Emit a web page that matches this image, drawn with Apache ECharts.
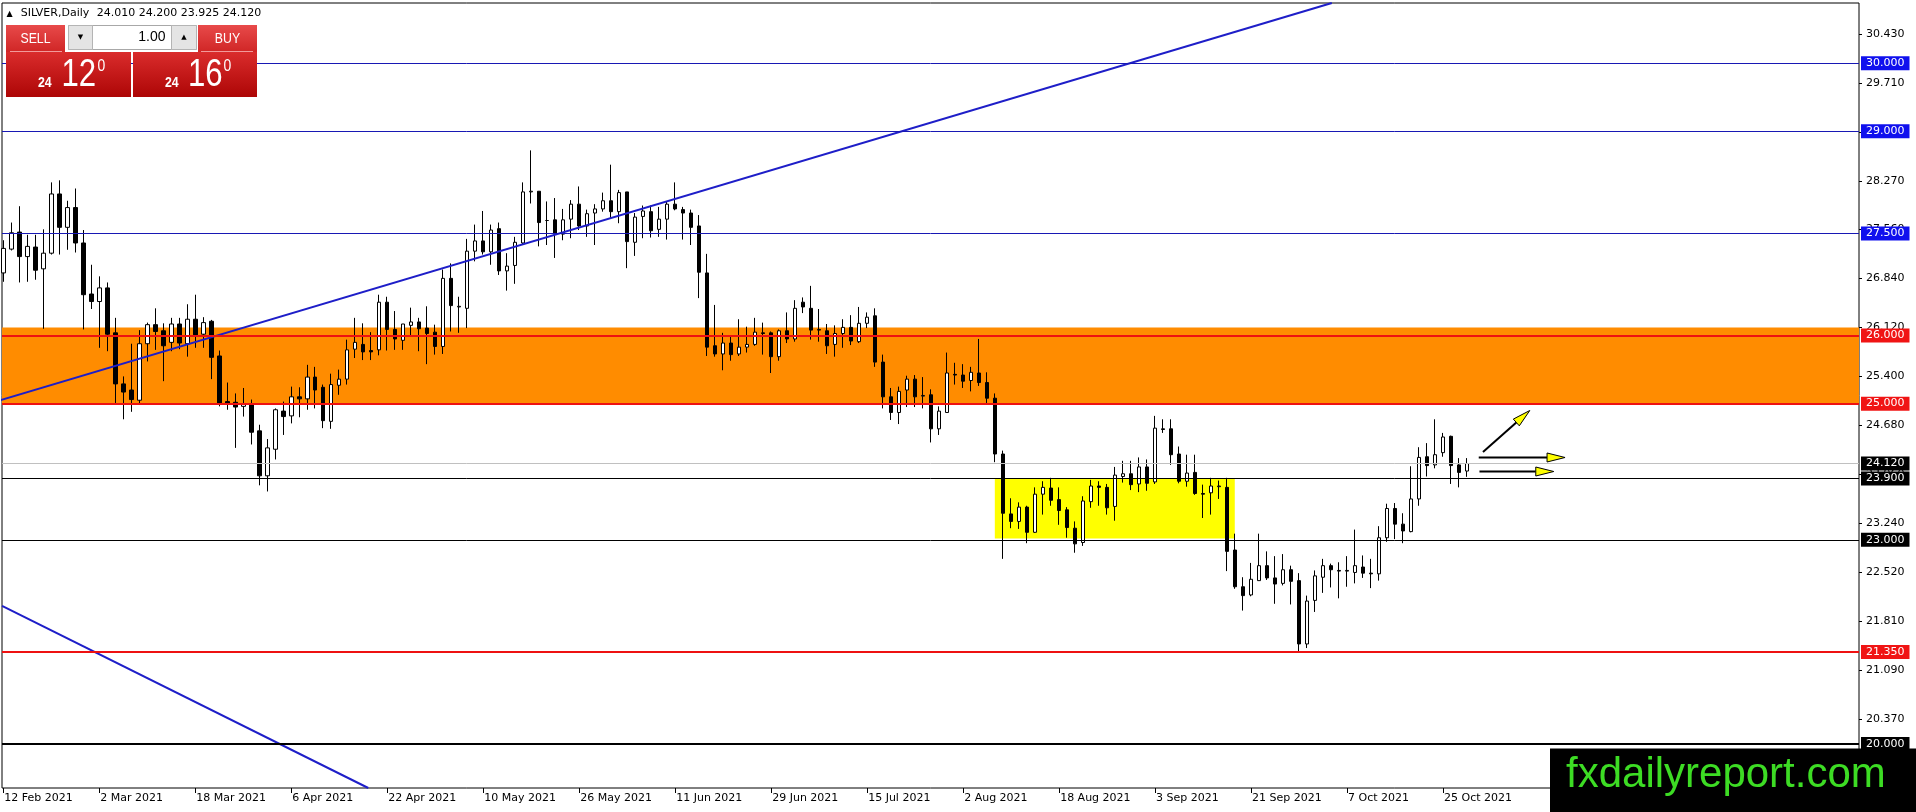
<!DOCTYPE html>
<html>
<head>
<meta charset="utf-8">
<script src="https://cdn.jsdelivr.net/npm/echarts@6/dist/echarts.min.js"></script>
<style>
html,body{margin:0;padding:0;background:#ffffff;}
#chart{width:1916px;height:812px;}
</style>
</head>
<body>
<div id="chart"></div>
<script>
// ---------------- DATA ----------------
const symbolName = 'SILVER,Daily';
const opens = [
26.92,27.27,27.52,27.16,27.30,26.98,27.21,28.08,27.59,27.88,
27.36,26.61,26.50,26.70,26.04,25.29,25.20,25.05,25.88,26.16,
26.07,25.90,26.17,25.88,26.24,26.02,26.21,25.70,25.03,25.02,
24.96,24.99,24.60,23.94,24.33,24.89,24.82,25.10,25.07,25.39,
25.24,24.74,25.27,25.36,25.80,25.87,25.78,25.79,26.49,26.09,
25.93,26.15,26.20,26.11,26.05,25.84,26.84,26.42,26.40,27.24,
27.39,27.23,27.57,26.95,27.03,27.36,28.11,28.12,27.69,27.70,
27.49,27.71,27.93,27.61,27.80,27.86,27.98,27.82,28.11,27.37,
27.75,27.82,27.56,27.71,27.93,27.85,27.80,27.61,26.92,25.85,
25.73,25.89,25.73,25.83,25.87,26.04,26.04,25.69,26.07,25.95,
26.49,26.40,26.08,26.07,25.87,26.03,26.12,25.91,26.18,26.29,
25.61,25.10,24.87,25.20,25.36,25.11,25.13,24.63,24.87,25.43,
25.42,25.34,25.45,25.31,25.08,24.26,23.38,23.27,23.48,23.11,
23.67,23.76,23.59,23.44,23.17,22.96,23.56,23.79,23.77,23.49,
23.93,23.97,23.82,24.07,23.85,24.63,24.63,24.26,23.86,23.99,
23.68,23.69,23.78,23.77,22.85,22.31,22.19,22.40,22.62,22.44,
22.36,22.56,22.40,21.47,22.11,22.45,22.62,22.55,22.54,22.52,
22.60,22.51,22.50,23.03,23.46,23.23,23.12,23.60,24.22,24.10,
24.28,24.52,24.10,24.010];
const closes = [
27.28,27.51,27.16,27.31,26.96,27.21,28.08,27.59,27.88,27.36,
26.60,26.50,26.70,26.02,25.29,25.17,25.06,25.88,26.16,26.06,
25.85,26.17,25.89,26.24,26.01,26.19,25.68,25.01,25.01,24.95,
24.99,24.58,23.94,24.35,24.91,24.81,25.10,25.07,25.39,25.20,
24.75,25.28,25.36,25.79,25.90,25.76,25.76,26.49,26.09,25.95,
26.17,26.20,26.10,26.03,25.84,26.84,26.44,26.43,27.24,27.39,
27.23,27.55,26.95,27.02,27.37,28.11,28.12,27.66,27.69,27.49,
27.70,27.93,27.61,27.79,27.86,27.98,27.82,28.10,27.38,27.74,
27.83,27.54,27.71,27.93,27.86,27.80,27.59,26.93,25.83,25.73,
25.89,25.72,25.83,25.87,26.05,26.03,25.69,26.07,25.95,26.40,
26.42,26.08,26.09,25.85,26.03,26.12,25.92,26.18,26.27,25.61,
25.10,24.87,25.18,25.36,25.10,25.12,24.63,24.89,25.45,25.42,
25.33,25.46,25.31,25.08,24.26,23.39,23.27,23.48,23.11,23.67,
23.77,23.58,23.43,23.18,22.94,23.57,23.79,23.77,23.47,23.95,
23.97,23.81,24.07,23.83,24.64,24.62,24.25,23.86,23.98,23.68,
23.67,23.79,23.79,22.83,22.31,22.18,22.42,22.62,22.44,22.35,
22.56,22.39,21.47,22.10,22.47,22.62,22.56,22.54,22.55,22.62,
22.51,22.50,23.03,23.46,23.23,23.13,23.60,24.21,24.09,24.25,
24.51,24.09,23.99,24.120];
const lows = [
26.79,27.25,26.78,26.79,26.82,26.10,27.19,27.19,27.26,27.22,
26.09,26.39,25.82,25.77,25.01,24.77,24.88,24.98,25.62,25.79,
25.33,25.77,25.80,25.69,25.82,25.82,25.36,24.96,24.91,24.35,
24.81,24.40,23.80,23.71,24.18,24.54,24.71,24.80,24.91,24.93,
24.64,24.63,25.13,25.28,25.67,25.64,25.64,25.71,25.78,25.79,
25.79,26.00,25.77,25.58,25.72,25.73,26.06,26.04,26.11,27.09,
27.19,27.04,26.89,26.66,26.76,27.33,27.94,27.31,27.33,27.14,
27.40,27.43,27.55,27.45,27.33,27.82,27.72,27.65,26.99,27.17,
27.43,27.44,27.45,27.41,27.84,27.41,27.33,26.55,25.70,25.69,
25.49,25.63,25.70,25.75,25.85,25.72,25.45,25.63,25.89,25.91,
26.33,25.94,25.91,25.73,25.69,25.82,25.86,25.89,26.11,25.54,
24.93,24.76,24.70,24.95,24.95,24.93,24.43,24.54,24.87,25.28,
25.23,25.18,25.26,25.01,24.14,22.72,23.17,23.16,22.95,23.10,
23.37,23.50,23.22,23.03,22.81,22.91,23.47,23.50,23.37,23.28,
23.84,23.73,23.70,23.72,23.82,24.57,24.10,23.83,23.78,23.66,
23.32,23.37,23.60,22.54,22.28,21.96,22.17,22.40,22.41,22.06,
22.33,22.05,21.36,21.41,21.94,22.22,22.30,22.14,22.31,22.36,
22.44,22.29,22.40,22.97,23.01,22.95,23.11,23.50,23.93,24.05,
24.22,23.82,23.77,23.925];
const highs = [
27.40,27.66,27.90,27.48,27.48,27.56,28.25,28.28,27.98,28.16,
27.55,27.04,26.87,26.78,26.26,25.40,25.88,26.08,26.19,26.40,
26.18,26.26,26.26,26.46,26.60,26.27,26.23,25.78,25.31,25.15,
25.23,25.06,24.69,24.48,24.93,25.03,25.25,25.24,25.57,25.54,
25.28,25.44,25.50,25.94,26.26,26.18,26.05,26.60,26.57,26.36,
26.17,26.41,26.26,26.43,26.16,26.97,27.06,26.57,27.42,27.63,
27.83,27.63,27.66,27.21,27.45,28.25,28.72,28.12,27.97,28.02,
27.86,27.99,28.19,27.85,27.93,28.10,28.51,28.14,28.11,27.80,
27.91,27.91,27.89,27.97,28.25,27.89,27.85,27.77,27.20,26.45,
26.04,25.99,26.24,26.13,26.26,26.19,26.06,26.09,26.34,26.52,
26.56,26.73,26.39,26.17,26.15,26.24,26.30,26.42,26.34,26.40,
25.72,25.23,25.25,25.41,25.42,25.39,25.21,24.96,25.75,25.60,
25.58,25.54,25.95,25.46,25.15,24.31,23.61,23.55,23.50,23.77,
23.86,23.91,23.77,23.48,23.27,23.64,23.88,23.86,23.82,24.07,
24.16,24.16,24.21,24.18,24.82,24.77,24.77,24.37,24.25,24.25,
23.81,23.91,23.87,23.91,23.09,22.45,22.66,23.09,22.83,22.76,
22.79,22.62,22.51,22.18,22.55,22.72,22.65,22.67,22.76,23.15,
22.77,22.72,23.20,23.53,23.54,23.39,24.08,24.36,24.42,24.77,
24.57,24.53,24.20,24.200];

const dateLabels = ['12 Feb 2021','2 Mar 2021','18 Mar 2021','6 Apr 2021','22 Apr 2021','10 May 2021',
  '26 May 2021','11 Jun 2021','29 Jun 2021','15 Jul 2021','2 Aug 2021','18 Aug 2021','3 Sep 2021',
  '21 Sep 2021','7 Oct 2021','25 Oct 2021'];
const dateLabelBars = [0,12,24,36,48,60,72,84,96,108,120,132,144,156,168,180];

const yTickValues = [30.43,29.71,28.99,28.27,27.56,26.84,26.12,25.40,24.68,23.96,23.24,22.52,21.81,21.09,20.37];

const blueLevels = [30.0, 29.0, 27.5];
const redLevels = [26.0, 25.0, 21.35];
const blackThinLevels = [23.9, 23.0];
const blackThickLevels = [20.0];
const bidPrice = 24.120;
const askPrice = 24.160;

const orangeZone = [25.0, 26.12];              // price band
const yellowZone = [123.96, 23.90, 153.96, 23.02]; // bar from, price top, bar to, price bottom

const trendUp = [[-0.41, 25.048], [166.09, 30.885]];
const trendDown = [[-0.16, 22.029], [45.63, 19.354]];

const arrows = [
  [184.99, 24.288, 190.84, 24.899],
  [184.46, 24.209, 195.25, 24.209],
  [184.55, 24.003, 193.84, 24.003]
];

// axis extents (bar-index units / price units)
const X_MIN = -0.1625, X_MAX = 232.0;
const Y_MIN = 19.354, Y_MAX = 30.885;

// ---------------- BUILD ----------------
const candleData = opens.map((o, i) => [i, o, closes[i], lows[i], highs[i]]);
const last = opens.length - 1;
const headerValues = [opens[last], highs[last], lows[last], closes[last]].map(v => v.toFixed(3)).join(' ');

const FONT = 'DejaVu Sans';
function level(v, lineColor, width, tagBg, tagColor) {
  return {
    yAxis: v,
    lineStyle: { color: lineColor, width: width, type: 'solid' },
    label: {
      show: true, position: 'end', distance: 2, formatter: v.toFixed(3),
      backgroundColor: tagBg, color: tagColor, padding: [1, 5, 1, 5],
      fontFamily: FONT, fontSize: 11, lineHeight: 12
    }
  };
}
const levelData = [
  ...blueLevels.map(v => level(v, '#1818b4', 1, '#1010ee', '#ffffff')),
  level(bidPrice, '#c0c0c0', 1, '#000000', '#ffffff'),
  ...blackThinLevels.map(v => level(v, '#000000', 1, '#000000', '#ffffff')),
  ...blackThickLevels.map(v => level(v, '#000000', 2, '#000000', '#ffffff')),
  ...redLevels.map(v => level(v, '#ee1111', 2, '#f01414', '#ffffff'))
];

function splitPrice(p) {
  const s = p.toFixed(3);         // "24.120"
  return [s.slice(0, 2), s.slice(3, 5), s.slice(5)];
}
const bidParts = splitPrice(bidPrice);
const askParts = splitPrice(askPrice);

const chart = echarts.init(document.getElementById('chart'), null, { renderer: 'canvas' });

const headGrad = () => new echarts.graphic.LinearGradient(0, 0, 0, 1, [
  { offset: 0, color: '#e84a4a' }, { offset: 1, color: '#d02626' }]);
const bodyGrad = () => new echarts.graphic.LinearGradient(0, 0, 0, 1, [
  { offset: 0, color: '#da2c2c' }, { offset: 1, color: '#ad0606' }]);

function narrowText(x, y, text, size, bold, align) {
  return {
    type: 'text', x: x, y: y, scaleX: 0.82, z: 101,
    style: { x: 0, y: 0, text: text, fill: '#ffffff', align: align || 'left', verticalAlign: 'middle',
      font: (bold ? 'bold ' : '') + size + 'px "Liberation Sans", Arial, sans-serif' }
  };
}

const graphics = [
  // header
  { type: 'text', z: 101, style: { x: 6.5, y: 13.5, text: '▲', fill: '#000', font: '8px "DejaVu Sans"', verticalAlign: 'middle' } },
  { type: 'text', z: 101, style: { x: 20.7, y: 13.5, text: symbolName, fill: '#000', font: '11px "DejaVu Sans"', verticalAlign: 'middle' } },
  { type: 'text', z: 101, style: { x: 96.7, y: 13.5, text: headerValues, fill: '#000', font: '11px "DejaVu Sans"', verticalAlign: 'middle' } },
  // sell / buy headers
  { type: 'rect', z: 100, shape: { x: 6, y: 25, width: 59, height: 27 }, style: { fill: headGrad() } },
  { type: 'rect', z: 100, shape: { x: 198, y: 25, width: 59, height: 27 }, style: { fill: headGrad() } },
  // price blocks
  { type: 'rect', z: 100, shape: { x: 6, y: 52, width: 125, height: 45 }, style: { fill: bodyGrad() } },
  { type: 'rect', z: 100, shape: { x: 133, y: 52, width: 124, height: 45 }, style: { fill: bodyGrad() } },
  { type: 'line', z: 101, shape: { x1: 10, y1: 51.5, x2: 62, y2: 51.5 }, style: { stroke: '#f29a9a', lineWidth: 1 } },
  { type: 'line', z: 101, shape: { x1: 201, y1: 51.5, x2: 253, y2: 51.5 }, style: { stroke: '#f29a9a', lineWidth: 1 } },
  // lot box
  { type: 'rect', z: 100, shape: { x: 68.5, y: 25.5, width: 128, height: 24 }, style: { fill: '#ffffff', stroke: '#a8a8a8', lineWidth: 1 } },
  { type: 'rect', z: 100, shape: { x: 68.5, y: 25.5, width: 24, height: 24 }, style: { fill: '#e4e4e4', stroke: '#b4b4b4', lineWidth: 1 } },
  { type: 'rect', z: 100, shape: { x: 171.5, y: 25.5, width: 25, height: 24 }, style: { fill: '#e4e4e4', stroke: '#b4b4b4', lineWidth: 1 } },
  { type: 'text', z: 101, style: { x: 80.5, y: 37.5, text: '▼', fill: '#000', font: '7px "DejaVu Sans"', align: 'center', verticalAlign: 'middle' } },
  { type: 'text', z: 101, style: { x: 184, y: 37.5, text: '▲', fill: '#000', font: '7px "DejaVu Sans"', align: 'center', verticalAlign: 'middle' } },
  { type: 'text', z: 101, style: { x: 165.5, y: 37.5, text: '1.00', fill: '#000', font: '14px "Liberation Sans", Arial', align: 'right', verticalAlign: 'middle' } },
  narrowText(35.5, 39, 'SELL', 15, false, 'center'),
  narrowText(227.5, 39, 'BUY', 15, false, 'center'),
  // bid
  narrowText(38, 83, bidParts[0], 15, true),
  narrowText(61.5, 75.5, bidParts[1], 38, false),
  narrowText(97.5, 66, bidParts[2], 17, false),
  // ask
  narrowText(165, 83, askParts[0], 15, true),
  narrowText(188, 75.5, askParts[1], 38, false),
  narrowText(223.5, 66, askParts[2], 17, false),
  // watermark
  { type: 'rect', z: 100, shape: { x: 1550, y: 748.5, width: 366, height: 64 }, style: { fill: '#000000' } },
  { type: 'text', z: 101, style: { x: 1566, y: 775.5, text: 'fxdailyreport.com', fill: '#3ddc24', font: '42px "Liberation Sans", Arial', verticalAlign: 'middle' } }
];

function renderArrow(params, api) {
  const p1 = api.coord([api.value(0), api.value(1)]);
  const p2 = api.coord([api.value(2), api.value(3)]);
  const dx = p2[0] - p1[0], dy = p2[1] - p1[1];
  const len = Math.hypot(dx, dy) || 1;
  const ux = dx / len, uy = dy / len;
  const hl = 18, hw = 4.5;
  const bx = p2[0] - ux * hl, by = p2[1] - uy * hl;
  const nx = -uy, ny = ux;
  return {
    type: 'group',
    children: [
      { type: 'line', shape: { x1: p1[0], y1: p1[1], x2: bx, y2: by }, style: { stroke: '#000', lineWidth: 2 } },
      { type: 'polygon', shape: { points: [[p2[0], p2[1]], [bx + nx * hw, by + ny * hw], [bx - nx * hw, by - ny * hw]] },
        style: { fill: '#ffff00', stroke: '#000', lineWidth: 1 } }
    ]
  };
}

const option = {
  animation: false,
  backgroundColor: '#ffffff',
  grid: { left: 2, right: 57, top: 3, bottom: 24, show: true, borderColor: '#000', borderWidth: 1,
    backgroundColor: 'transparent', containLabel: false, outerBoundsMode: 'none' },
  xAxis: {
    type: 'value', min: X_MIN, max: X_MAX, scale: true,
    axisLine: { show: false, onZero: false }, splitLine: { show: false },
    axisTick: { show: true, customValues: dateLabelBars, length: 5, lineStyle: { color: '#000', width: 1 } },
    axisLabel: {
      show: true, customValues: dateLabelBars, margin: 5, align: 'left', padding: [0, 0, 0, 1],
      color: '#000', fontFamily: FONT, fontSize: 11,
      formatter: v => dateLabels[dateLabelBars.indexOf(Math.round(v))] || ''
    }
  },
  yAxis: {
    type: 'value', position: 'right', min: Y_MIN, max: Y_MAX, scale: true,
    axisLine: { show: false, onZero: false }, splitLine: { show: false },
    axisTick: { show: true, customValues: yTickValues, length: 3, lineStyle: { color: '#000' } },
    axisLabel: { show: true, customValues: yTickValues, margin: 7, color: '#000', fontFamily: FONT, fontSize: 11,
      formatter: v => v.toFixed(3) }
  },
  graphic: { elements: graphics },
  series: [
    {
      name: 'zones', type: 'line', data: [], z: 1, silent: true,
      markArea: {
        silent: true,
        data: [
          [{ xAxis: X_MIN, yAxis: orangeZone[0], itemStyle: { color: '#ff8c00', opacity: 1 } }, { xAxis: X_MAX, yAxis: orangeZone[1] }],
          [{ xAxis: yellowZone[0], yAxis: yellowZone[1], itemStyle: { color: '#ffff00', opacity: 1 } }, { xAxis: yellowZone[2], yAxis: yellowZone[3] }]
        ]
      }
    },
    {
      name: 'SILVER', type: 'candlestick', z: 3, data: candleData, barWidth: 4,
      itemStyle: { color: '#ffffff', color0: '#000000', borderColor: '#000000', borderColor0: '#000000', borderWidth: 1 }
    },
    {
      name: 'trendUp', type: 'line', z: 4, data: trendUp, symbol: 'none', silent: true,
      lineStyle: { color: '#1e1ec8', width: 2 }
    },
    {
      name: 'trendDown', type: 'line', z: 4, data: trendDown, symbol: 'none', silent: true,
      lineStyle: { color: '#1e1ec8', width: 2 }
    },
    {
      name: 'levels', type: 'line', data: [], z: 5, clip: false, silent: true,
      markLine: { silent: true, symbol: ['none', 'none'], data: levelData }
    },
    {
      name: 'arrows', type: 'custom', z: 6, data: arrows, renderItem: renderArrow, silent: true,
      encode: { x: [0, 2], y: [1, 3] }
    }
  ]
};
chart.setOption(option);
</script>
</body>
</html>
